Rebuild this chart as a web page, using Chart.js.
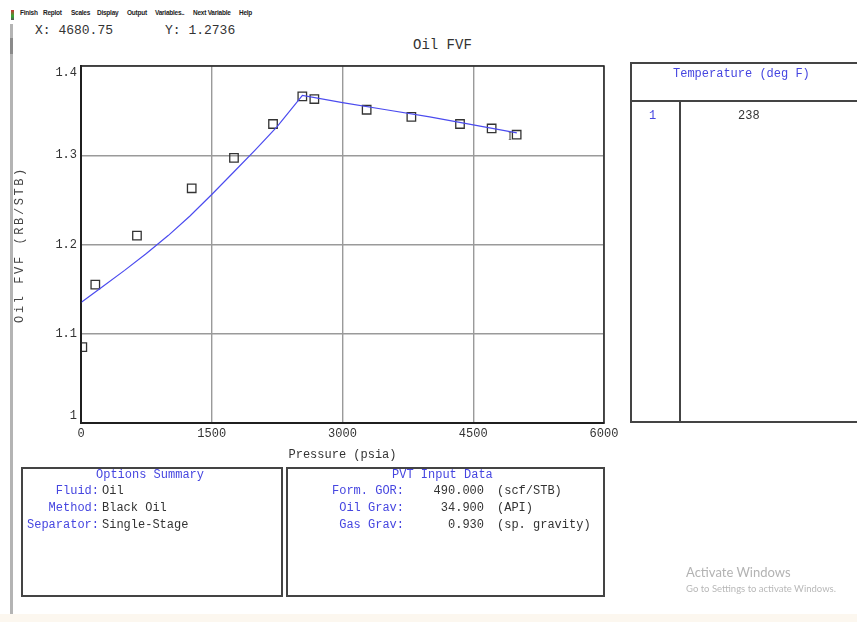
<!DOCTYPE html>
<html lang="en">
<head>
<meta charset="UTF-8">
<title>Oil FVF</title>
<script src="https://cdn.jsdelivr.net/npm/chart.js"></script>
<style>
  body { margin:0; width:857px; height:622px; position:relative; overflow:hidden; background:#fff;
         font-family:"Liberation Mono", monospace; font-size:12px; color:#333; }
  .abs { position:absolute; white-space:pre; line-height:17px; }
  .blue { color:#4646e0; }
  .menu { position:absolute; top:9px; font:bold 6.5px "Liberation Sans Narrow", "Liberation Sans", Arial, sans-serif; color:#222; letter-spacing:-0.25px; white-space:pre; }
  .box { position:absolute; border:2px solid #444; box-sizing:border-box; }
  #chart { position:absolute; left:0; top:0; }
</style>
</head>
<body>
  <!-- window chrome -->
  <div style="position:absolute;left:11px;top:10px;width:3px;height:10px;background:linear-gradient(#c33,#3a3 60%,#555)"></div>
  <div style="position:absolute;left:10px;top:24px;width:3px;height:598px;background:#b4b4b4"></div>
  <div style="position:absolute;left:10px;top:38px;width:3px;height:16px;background:#8a8a8a"></div>
  <span class="menu" style="left:20px">Finish</span>
  <span class="menu" style="left:43px">Replot</span>
  <span class="menu" style="left:71px">Scales</span>
  <span class="menu" style="left:97px">Display</span>
  <span class="menu" style="left:127px">Output</span>
  <span class="menu" style="left:155px">Variables..</span>
  <span class="menu" style="left:193px">Next Variable</span>
  <span class="menu" style="left:239px">Help</span>

  <span class="abs" style="left:35px;top:22px;font-size:13px">X: 4680.75</span>
  <span class="abs" style="left:165px;top:22px;font-size:13px">Y: 1.2736</span>
  <span class="abs" style="left:413px;top:37px;font-size:14px">Oil FVF</span>

  <canvas id="chart" width="857" height="622"></canvas>
  <span class="abs" style="left:508px;top:129px;font:12px 'Liberation Serif',serif;color:#555">I</span>

  <!-- temperature table -->
  <div class="box" style="left:630px;top:62px;width:232px;height:361px">
    <div style="position:absolute;left:0;right:0;top:0;height:36px;border-bottom:2px solid #444"></div>
    <div style="position:absolute;left:47px;top:36px;bottom:0;border-left:2px solid #444"></div>
  </div>
  <span class="abs blue" style="left:673px;top:66px">Temperature (deg F)</span>
  <span class="abs blue" style="left:649px;top:108px">1</span>
  <span class="abs" style="left:738px;top:108px">238</span>

  <!-- options summary -->
  <div class="box" style="left:21px;top:467px;width:262px;height:130px"></div>
  <span class="abs blue" style="left:96px;top:467px">Options Summary</span>
  <span class="abs blue" style="right:758px;top:483px">Fluid:</span>
  <span class="abs" style="left:102px;top:483px">Oil</span>
  <span class="abs blue" style="right:758px;top:500px">Method:</span>
  <span class="abs" style="left:102px;top:500px">Black Oil</span>
  <span class="abs blue" style="right:758px;top:517px">Separator:</span>
  <span class="abs" style="left:102px;top:517px">Single-Stage</span>

  <!-- pvt input data -->
  <div class="box" style="left:286px;top:467px;width:319px;height:130px"></div>
  <span class="abs blue" style="left:392px;top:467px">PVT Input Data</span>
  <span class="abs blue" style="right:453px;top:483px">Form. GOR:</span>
  <span class="abs" style="right:373px;top:483px">490.000</span>
  <span class="abs" style="left:497px;top:483px">(scf/STB)</span>
  <span class="abs blue" style="right:453px;top:500px">Oil Grav:</span>
  <span class="abs" style="right:373px;top:500px">34.900</span>
  <span class="abs" style="left:497px;top:500px">(API)</span>
  <span class="abs blue" style="right:453px;top:517px">Gas Grav:</span>
  <span class="abs" style="right:373px;top:517px">0.930</span>
  <span class="abs" style="left:497px;top:517px">(sp. gravity)</span>

  <span class="abs" style="left:686px;top:564px;font:13px Lato,sans-serif;color:#b3b3b3">Activate Windows</span>
  <span class="abs" style="left:686px;top:583px;font:9.5px Lato,sans-serif;color:#b8b8b8">Go to Settings to activate Windows.</span>
  <div style="position:absolute;left:0;top:614px;width:857px;height:8px;background:#fcf7ef"></div>

<script>
// axis ticks
const xTicks = [0, 1500, 3000, 4500, 6000];
const yTicks = [1, 1.1, 1.2, 1.3, 1.4];

// calculated curve (blue line)
const curvePressure = [0, 250, 500, 750, 1000, 1250, 1500, 1750, 2000, 2250, 2540, 3000, 3500, 4000, 4500, 5000];
const curveBo = [1.135, 1.153, 1.171, 1.190, 1.210, 1.232, 1.256, 1.281, 1.306, 1.332, 1.367, 1.359, 1.351, 1.343, 1.334, 1.325];

// lab points (squares)
const labPressure = [15, 164, 642, 1270, 1755, 2203, 2539, 2677, 3277, 3790, 4348, 4711, 4998];
const labBo = [1.085, 1.155, 1.210, 1.263, 1.297, 1.335, 1.366, 1.363, 1.351, 1.343, 1.335, 1.330, 1.323];

const monoFont = { family: '"Liberation Mono", monospace', size: 12 };

// black frame round the plot
const frame = {
  id: 'frame',
  afterDraw(chart) {
    const { ctx, chartArea: a } = chart;
    ctx.save();
    ctx.strokeStyle = '#222';
    ctx.lineWidth = 1.5;
    ctx.strokeRect(a.left, a.top, a.right - a.left, a.bottom - a.top);
    ctx.restore();
  }
};

// spaced-out y axis title
const spacedTitle = {
  id: 'spacedTitle',
  beforeDraw(chart) {
    const s = chart.scales.y;
    if (s && !s._spaced) {
      const orig = s.drawTitle.bind(s);
      s.drawTitle = function () {
        this.ctx.save();
        this.ctx.letterSpacing = '2.6px';
        orig();
        this.ctx.restore();
      };
      s._spaced = true;
    }
  }
};

new Chart(document.getElementById('chart'), {
  type: 'scatter',
  data: {
    datasets: [
      {
        type: 'line',
        data: curvePressure.map((p, i) => ({ x: p, y: curveBo[i] })),
        borderColor: '#4b4bef',
        borderWidth: 1.2,
        pointRadius: 0,
        tension: 0,
        fill: false
      },
      {
        data: labPressure.map((p, i) => ({ x: p, y: labBo[i] })),
        pointStyle: 'rect',
        pointRadius: 6,
        borderColor: '#333',
        borderWidth: 1.3,
        backgroundColor: 'rgba(0,0,0,0)'
      }
    ]
  },
  options: {
    responsive: false,
    animation: false,
    events: [],
    layout: { padding: { left: 10, top: 66, right: 253, bottom: 160 } },
    plugins: { legend: { display: false }, tooltip: { enabled: false } },
    scales: {
      x: {
        type: 'linear',
        min: 0,
        max: 6000,
        afterBuildTicks: s => { s.ticks = xTicks.map(v => ({ value: v })); },
        afterFit: s => { s.height = 39; },
        ticks: { callback: v => String(v), font: monoFont, color: '#333', padding: 4, maxRotation: 0, autoSkip: false },
        grid: { color: '#9a9a9a', lineWidth: 1.4, drawTicks: false },
        border: { color: '#1a1a1a', width: 2 },
        title: { display: true, text: 'Pressure (psia)', font: monoFont, color: '#333', padding: { top: 0, bottom: 0 } }
      },
      y: {
        min: 1,
        max: 1.4,
        afterBuildTicks: s => { s.ticks = yTicks.map(v => ({ value: v })); },
        afterFit: s => { s.width = 71; },
        ticks: {
          callback: v => v === 1.4 ? ['', '1.4'] : v === 1 ? ['1', ''] : String(v),
          font: monoFont, color: '#333', padding: 4, autoSkip: false
        },
        grid: { color: '#9a9a9a', lineWidth: 1.4, drawTicks: false },
        border: { color: '#1a1a1a', width: 2 },
        title: { display: true, text: 'Oil FVF (RB/STB)', font: monoFont, color: '#444', padding: { top: 3, bottom: 0 } }
      }
    }
  },
  plugins: [frame, spacedTitle]
});
</script>
</body>
</html>
